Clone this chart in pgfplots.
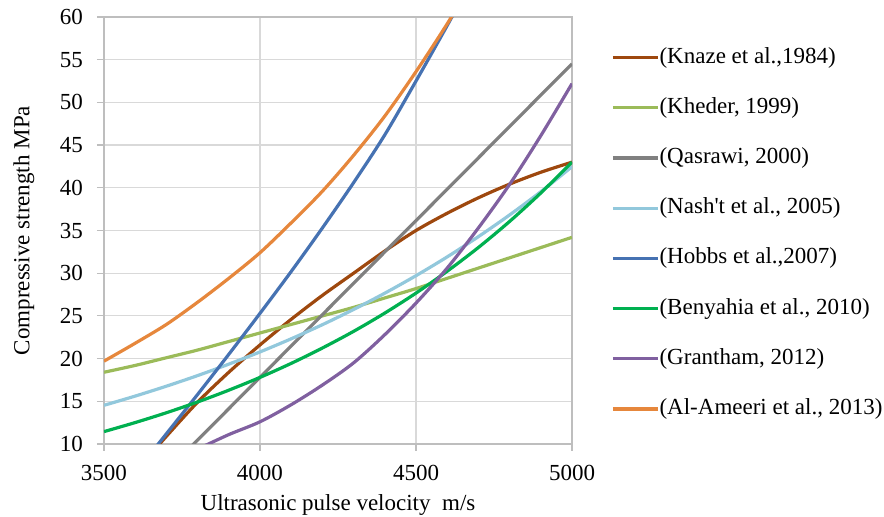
\documentclass[border=0pt]{standalone}
\usepackage{fontspec}
\setmainfont{Liberation Serif}
\usepackage{pgfplots}
\pgfplotsset{compat=1.18}
\definecolor{cKnaze}{RGB}{158,72,14}
\definecolor{cKheder}{RGB}{155,187,89}
\definecolor{cQas}{RGB}{128,128,128}
\definecolor{cNash}{RGB}{146,200,220}
\definecolor{cHobbs}{RGB}{70,114,178}
\definecolor{cBen}{RGB}{0,176,80}
\definecolor{cGrant}{RGB}{128,96,160}
\definecolor{cAmeeri}{RGB}{230,135,60}
\definecolor{gridc}{RGB}{217,217,217}
\definecolor{axc}{RGB}{190,190,190}
\begin{document}
\begin{tikzpicture}
\path[use as bounding box] (-52pt,-36.5pt) rectangle (390pt,222pt);
\begin{axis}[
  at={(0,0)}, anchor=south west,
  scale only axis, width=234pt, height=213.5pt,
  xmin=3500, xmax=5000, ymin=10, ymax=60,
  xtick={3500,4000,4500,5000}, ytick={10,15,...,60},
  /pgf/number format/assume math mode=true,
  /pgf/number format/set thousands separator={},
  font=\fontsize{11.5pt}{13.8pt}\selectfont,
  ticklabel style={font=\fontsize{11.5pt}{13.8pt}\selectfont},
  xticklabel style={yshift=-3.8pt},
  yticklabel style={xshift=-3.5pt},
  axis line style={axc, line width=0.6pt},
  grid=major, major grid style={gridc, line width=0.6pt},
  tick align=outside, major tick length=3.5pt,
  tick style={axc, line width=0.6pt},
  xtick pos=bottom, ytick pos=left,
  xlabel={Ultrasonic pulse velocity\ \ m/s},
  ylabel={Compressive strength MPa},
  xlabel style={at={(axis description cs:0.5,-0.144)}, anchor=center},
  ylabel style={at={(axis description cs:-0.171,0.5)}, anchor=center, rotate=0},
  legend cell align=left,
  legend style={at={(1.0833,0.933)}, anchor=north west, draw=none, fill=none,
    inner sep=0pt, row sep=13.6pt,
    nodes={inner sep=0pt, text height=8.5pt, text depth=3pt, font=\fontsize{11.5pt}{13.8pt}\selectfont},
    /tikz/every even column/.append style={column sep=1.5pt}},
  legend image code/.code={\draw[#1] (0pt,0pt) -- (22.5pt,0pt);},
  every axis plot/.append style={line width=1.6pt, no markers, smooth},
]
\addplot[cKnaze] coordinates {(3650,8.8)(3700,10.9)(3800,14.9)(3900,18.4)(4000,21.6)(4100,24.6)(4200,27.4)(4300,30.0)(4400,32.6)(4500,35.00)(4600,37.02)(4700,38.83)(4800,40.43)(4900,41.82)(5000,43.00)};
\addlegendentry{(Knaze et al.,1984)}
\addplot[cKheder] coordinates {(3500,18.4)(3600,19.2)(3700,20.1)(3800,21.0)(3900,22.0)(4000,23.0)(4100,24.0)(4200,25.0)(4300,26.0)(4400,27.1)(4500,28.2)(4600,29.4)(4700,30.6)(4800,31.8)(4900,33.0)(5000,34.2)};
\addlegendentry{(Kheder, 1999)}
\addplot[cQas] coordinates {(3700,6.79)(5000,54.52)};
\addlegendentry{(Qasrawi, 2000)}
\addplot[cNash] coordinates {(3500,14.53)(3600,15.61)(3700,16.77)(3800,18.01)(3900,19.35)(4000,20.78)(4100,22.32)(4200,23.97)(4300,25.75)(4400,27.66)(4500,29.71)(4600,31.91)(4700,34.28)(4800,36.82)(4900,39.54)(5000,42.47)};
\addlegendentry{(Nash\textquotesingle t et al., 2005)}
\addplot[cHobbs] coordinates {(3650,8.9)(3700,11.2)(3800,15.8)(3900,20.5)(4000,25.3)(4100,30.2)(4200,35.3)(4300,40.6)(4400,46.2)(4500,52.5)(4600,59.0)(4650,62.4)};
\addlegendentry{(Hobbs et al.,2007)}
\addplot[cBen] coordinates {(3500,11.45)(3600,12.51)(3700,13.66)(3800,14.92)(3900,16.30)(4000,17.80)(4100,19.44)(4200,21.24)(4300,23.19)(4400,25.33)(4500,27.67)(4600,30.23)(4700,33.01)(4800,36.06)(4900,39.39)(5000,43.02)};
\addlegendentry{(Benyahia et al., 2010)}
\addplot[cGrant] coordinates {(3800,9.4)(3900,11.1)(4000,12.6)(4100,14.6)(4200,16.9)(4300,19.5)(4400,22.8)(4500,26.5)(4600,30.6)(4700,35.3)(4800,40.4)(4900,46.1)(5000,52.2)};
\addlegendentry{(Grantham, 2012)}
\addplot[cAmeeri] coordinates {(3500,19.7)(3600,21.8)(3700,24.0)(3800,26.6)(3900,29.4)(4000,32.4)(4100,35.9)(4200,39.6)(4300,43.8)(4400,48.4)(4500,53.6)(4600,59.2)(4650,62.3)};
\addlegendentry{(Al-Ameeri et al., 2013)}
\end{axis}
\end{tikzpicture}
\end{document}
